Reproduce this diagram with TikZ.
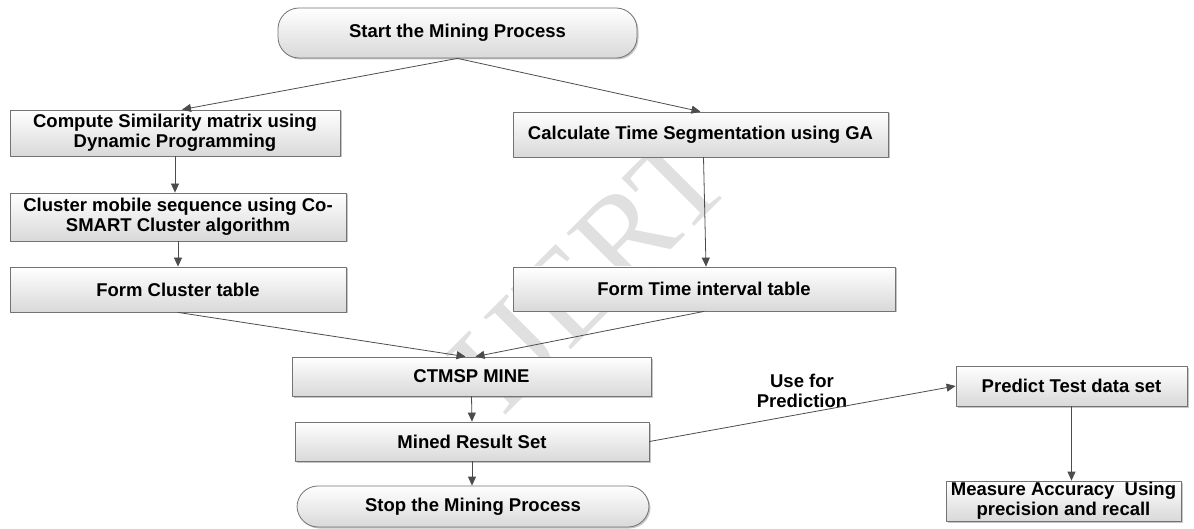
\documentclass[tikz,border=0pt]{standalone}
\usepackage{fontspec}
\setmainfont{Liberation Sans}
\newfontfamily\wmfont{Liberation Serif}
\usetikzlibrary{calc}
\usetikzlibrary{arrows.meta}
\usetikzlibrary{shadows}
\definecolor{qqqqqq}{rgb}{0.3,0.3,0.3}
\definecolor{wwwwww}{rgb}{0.45,0.45,0.45}
\definecolor{ddddee}{rgb}{0.85,0.85,0.85}
\definecolor{cccccc}{rgb}{0.88,0.88,0.88}
\tikzstyle{every node}=[font=\bfseries\fontsize{18.5}{20}\selectfont]
\tikzset{
  box/.style={draw=wwwwww,line width=0.8pt,top color=white,bottom color=ddddee,
    drop shadow={shadow xshift=1.5pt,shadow yshift=-1.5pt,fill=gray,opacity=0.45},
    align=center,inner sep=0pt},
  term/.style={box,rounded corners=21pt},
  link/.style={->,line width=0.8pt,color=qqqqqq}
}

\begin{document}
\begin{tikzpicture}[line cap=round,line join=round,>={Triangle[length=9pt,width=8pt]},x=1pt,y=-1pt]
            \useasboundingbox (0,0) rectangle (1194,529);
            \node[rotate=45,text=cccccc,font=\wmfont\fontsize{130}{130}\selectfont] (mark) at (590,272) {IJERT};
            \node[term,minimum width=359,minimum height=50] (start) at (457.5,33) {Start the Mining Process};
            \node[box,minimum width=330,minimum height=46] (compute) at (175,133) {Compute Similarity matrix using\\Dynamic Programming};
            \node[box,minimum width=375,minimum height=45] (calc) at (700.5,134.5) {Calculate Time Segmentation using GA};
            \node[box,minimum width=336,minimum height=48] (cluster) at (178,217) {Cluster mobile sequence using Co-\\SMART Cluster algorithm};
            \node[box,minimum width=336,minimum height=45] (fcluster) at (178,289.5) {Form Cluster table};
            \node[box,minimum width=382,minimum height=44] (ftime) at (704,289) {Form Time interval table};
            \node[box,minimum width=359,minimum height=39] (ctmsp) at (471.5,376.5) {CTMSP MINE};
            \node[box,minimum width=354,minimum height=39] (mined) at (472,441.5) {Mined Result Set};
            \node[term,minimum width=352,minimum height=41] (stop) at (473,506.5) {Stop the Mining Process};
            \node[box,minimum width=231,minimum height=40] (predict) at (1071.5,386) {Predict Test data set};
            \node[box,minimum width=235,minimum height=40] (measure) at (1063.5,501) {Measure Accuracy\ \ Using\\precision and recall};
            \node[align=center] (use) at (802,391) {Use for\\Prediction};
            \draw [link] (start.south) -- ($(compute.north)+(7,0)$);
            \draw [link] (start.south) -- (calc.north);
            \draw [link] (compute.south) -- (compute.south |- cluster.north);
            \draw [link] (cluster.south) -- (fcluster.north);
            \draw [link] ($(calc.south)+(3,0)$) -- ($(ftime.north)+(2,0)$);
            \draw [link] (fcluster.south) -- ($(ctmsp.north)+(-6,0)$);
            \draw [link] (ftime.south) -- ($(ctmsp.north)+(4,0)$);
            \draw [link] (ctmsp.south) -- (mined.north);
            \draw [link] (mined.south) -- (mined.south |- stop.north);
            \draw [link] (mined.east) -- (predict.west);
            \draw [link] (predict.south) -- (predict.south |- measure.north);
\end{tikzpicture}
\end{document}
